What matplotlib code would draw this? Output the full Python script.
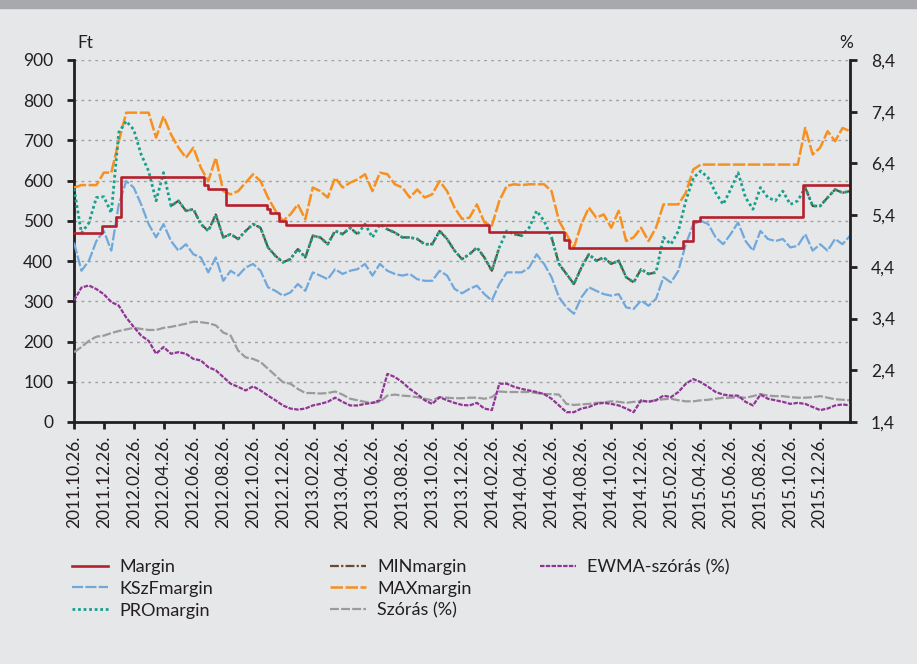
import numpy as np
import pandas as pd
import matplotlib
matplotlib.use('Agg')
import matplotlib.pyplot as plt
from matplotlib.patches import Rectangle

plt.rcParams['font.family'] = ['Lato', 'DejaVu Sans']

# félhavi pontok 2011.10.26 és 2016.02.26 között (105 db)
dates = pd.date_range('2011-10-26', '2016-02-26', periods=105)

kszf_margin = [446, 376, 401, 450, 475, 426, 541, 599, 583, 541, 492, 459, 492, 450, 426, 442,
               417, 409, 372, 409, 351, 376, 364, 384, 393, 376, 335, 326, 314, 322, 343, 326,
               372, 364, 355, 380, 368, 376, 380, 393, 364, 393, 376, 368, 364, 368, 355, 351,
               351, 376, 364, 331, 320,
               331, 339, 318, 302, 343, 372, 372, 372, 384, 417, 393, 360, 310, 285, 269, 310,
               335, 326, 318, 314, 318, 285, 281, 302, 289, 306, 360, 347, 376, 442, 492, 500,
               492, 459, 442, 467, 496, 450, 426, 475, 455, 450, 455, 434, 438, 467, 426, 442,
               426, 455, 442, 463]

pro_margin = [580, 470, 495, 558, 560, 520, 720, 748, 727, 665, 624, 550, 620, 537, 550, 525,
              529, 492, 475, 516, 459, 467, 455, 475, 492, 483, 434, 413, 397, 405, 430, 409,
              463, 459, 442, 475, 467, 483, 467, 492, 459, 492, 479, 471, 459, 459, 455, 442,
              442, 475, 455, 426, 405,
              417, 434, 409, 376, 434, 475, 467, 463, 483, 525, 500, 459, 393, 368, 343, 384,
              417, 401, 409, 393, 401, 360, 347, 380, 368, 372, 459, 442, 475, 550, 607, 624,
              607, 570, 541, 578, 620, 558, 529, 583, 558, 550, 574, 541, 550, 583, 537, 537,
              558, 578, 570, 574]

max_margin = [583, 589, 589, 589, 620, 620, 698, 769, 769, 769, 769, 707, 760, 715, 682, 657,
              682, 632, 599, 657, 574, 566, 574, 595, 616, 599, 558, 525, 500, 516, 541, 504,
              583, 574, 558, 607, 583, 595, 603, 616, 574, 620, 616, 591, 583, 558, 578, 558,
              566, 599, 574, 533, 505,
              508, 541, 496, 488, 550, 587, 591, 589, 591, 591, 591, 574, 500, 467, 434, 492,
              533, 508, 516, 483, 525, 450, 459, 483, 450, 483, 541, 541, 541, 570, 628, 640,
              640, 640, 640, 640, 640, 640, 640, 640, 640, 640, 640, 640, 640, 731, 665, 682,
              723, 698, 731, 723]

szoras = [2.75, 2.85, 2.97, 3.05, 3.07, 3.12, 3.16, 3.19, 3.22, 3.20, 3.18, 3.18, 3.22, 3.24,
          3.27, 3.30, 3.34, 3.33, 3.31, 3.27, 3.13, 3.07, 2.78, 2.65, 2.62, 2.56, 2.43, 2.30,
          2.17, 2.14, 2.04, 1.96, 1.96, 1.95, 1.96, 1.99, 1.93, 1.85, 1.82, 1.79, 1.77, 1.79,
          1.91, 1.93, 1.91, 1.90, 1.88, 1.85, 1.82, 1.88, 1.87, 1.86, 1.86,
          1.87, 1.87, 1.85, 1.88, 1.99, 1.98, 1.98, 1.98, 1.98, 1.96, 1.94, 1.94, 1.93, 1.75,
          1.73, 1.74, 1.75, 1.77, 1.78, 1.80, 1.79, 1.77, 1.79, 1.80, 1.80, 1.82, 1.84, 1.85,
          1.82, 1.80, 1.80, 1.82, 1.83, 1.85, 1.87, 1.87, 1.88, 1.87, 1.90, 1.94, 1.91, 1.90,
          1.90, 1.88, 1.87, 1.87, 1.88, 1.90, 1.87, 1.84, 1.83, 1.82]

ewma = [3.75, 4.00, 4.04, 3.97, 3.87, 3.72, 3.65, 3.42, 3.24, 3.07, 2.97, 2.72, 2.85, 2.72,
        2.75, 2.72, 2.62, 2.59, 2.46, 2.40, 2.27, 2.14, 2.08, 2.01, 2.09, 2.01, 1.91, 1.82,
        1.72, 1.66, 1.64, 1.66, 1.72, 1.75, 1.79, 1.87, 1.79, 1.72, 1.72, 1.75, 1.77, 1.82,
        2.33, 2.27, 2.17, 2.04, 1.94, 1.82, 1.75, 1.88, 1.82, 1.77, 1.73,
        1.72, 1.77, 1.66, 1.63, 2.14, 2.14, 2.08, 2.04, 2.01, 1.98, 1.94, 1.85, 1.72, 1.59,
        1.59, 1.66, 1.69, 1.75, 1.77, 1.75, 1.72, 1.66, 1.59, 1.82, 1.79, 1.82, 1.91, 1.88,
        1.98, 2.14, 2.23, 2.17, 2.08, 1.98, 1.93, 1.91, 1.91, 1.79, 1.72, 1.93, 1.85, 1.82,
        1.79, 1.75, 1.77, 1.75, 1.69, 1.63, 1.66, 1.72, 1.74, 1.72]

# Margin lépcsők (változás dátuma, új szint)
margin_dates = ['2011-10-26', '2011-12-22', '2012-01-20', '2012-01-29', '2012-07-18',
                '2012-07-26', '2012-09-01', '2012-11-22', '2012-11-30', '2012-12-17',
                '2013-01-01', '2014-02-20', '2014-07-23', '2014-08-01', '2015-03-23',
                '2015-04-12', '2015-04-26', '2015-11-22', '2016-02-26']
margin_vals = [470, 488, 510, 610, 588, 580, 540, 530, 520, 500, 490, 473, 452, 432, 450,
               500, 510, 590, 590]

margin_dates = pd.to_datetime(margin_dates)
margin_vals = np.array(margin_vals)

# MINmargin: a PROmargin ott, ahol a Margin alatt fut
idx = np.searchsorted(margin_dates.values, dates.values, side='right') - 1
margin_on_grid = margin_vals[idx]
pro_arr = np.array(pro_margin, dtype=float)
min_margin = np.where(pro_arr < margin_on_grid, pro_arr, np.nan)

bg = '#e6e7e8'
fig = plt.figure(figsize=(9.17, 6.64), dpi=100, facecolor=bg)
fig.patches.append(Rectangle((0, 1 - 8 / 664), 1, 8 / 664, transform=fig.transFigure,
                             color='#a7a9ac', zorder=0))
fig.subplots_adjust(left=74 / 917, right=850 / 917, bottom=1 - 422 / 664, top=1 - 60 / 664)
ax = fig.add_subplot(111)
ax.set_facecolor(bg)
ax2 = ax.twinx()

l_szoras, = ax2.plot(dates, szoras, color='#9b9b9b', lw=1.6, dashes=(4, 1), zorder=2)
l_ewma, = ax2.plot(dates, ewma, color='#8e3596', lw=1.6, dashes=(2, 0.6), zorder=3)

l_kszf, = ax.plot(dates, kszf_margin, color='#6fa8dc', lw=1.6, dashes=(5, 1), zorder=3)
l_max, = ax.plot(dates, max_margin, color='#f7901e', lw=1.8, dashes=(5, 1), zorder=3)
l_min, = ax.plot(dates, min_margin, color='#6b4a2f', lw=1.6, dashes=(4, 1, 1, 1), zorder=4)
l_pro, = ax.plot(dates, pro_arr, color='#18a08d', lw=2.0, dashes=(1, 1),
                 dash_capstyle='butt', zorder=5)
l_margin, = ax.step(margin_dates, margin_vals, where='post', color='#b5202e', lw=1.9, zorder=6)

ax.set_ylim(0, 900)
ax.set_yticks(range(0, 901, 100))
ax2.set_ylim(1.4, 8.4)
r_ticks = [1.4, 2.4, 3.4, 4.4, 5.4, 6.4, 7.4, 8.4]
ax2.set_yticks(r_ticks)
ax2.set_yticklabels([f'{v:.1f}'.replace('.', ',') for v in r_ticks])

x_ticks = pd.date_range('2011-10-26', '2015-12-26', freq=pd.DateOffset(months=2))
ax.set_xlim(pd.Timestamp('2011-10-26'), pd.Timestamp('2016-02-26'))
ax.set_xticks(x_ticks)
ax.set_xticklabels([d.strftime('%Y.%m.%d.') for d in x_ticks], rotation=90)

ax.grid(axis='y', color='#a0a0a0', lw=1.0, linestyle=(0, (2, 3)))
ax.set_axisbelow(True)

spine_c = '#231f20'
for s in ['top', 'right']:
    ax.spines[s].set_visible(False)
for s in ['top', 'left', 'bottom']:
    ax2.spines[s].set_visible(False)
for sp in [ax.spines['left'], ax.spines['bottom'], ax2.spines['right']]:
    sp.set_color(spine_c)
    sp.set_linewidth(2)

ax.tick_params(axis='y', direction='out', length=5, width=2, color=spine_c,
               labelsize=12.5, labelcolor='#231f20', pad=10)
ax.tick_params(axis='x', direction='out', length=5, width=2, color=spine_c,
               labelsize=12.5, labelcolor='#231f20', pad=5)
ax2.tick_params(axis='y', direction='out', length=5, width=2, color=spine_c,
                labelsize=12.5, labelcolor='#231f20', pad=10)

fig.text(77 / 917, 1 - 43 / 664, 'Ft', fontsize=12.5, color='#231f20', va='center')
fig.text(846 / 917, 1 - 43 / 664, '%', fontsize=12.5, color='#231f20', va='center', ha='center')

columns = [([l_margin, l_kszf, l_pro], ['Margin', 'KSzFmargin', 'PROmargin'], 72),
           ([l_min, l_max, l_szoras], ['MINmargin', 'MAXmargin', 'Szórás (%)'], 330),
           ([l_ewma], ['EWMA-szórás (%)'], 540)]
for handles, labels, x0 in columns:
    fig.legend(handles, labels, loc='upper left', bbox_to_anchor=(x0 / 917, 1 - 559 / 664),
               frameon=False, fontsize=13, handlelength=2.0, handletextpad=0.6,
               labelspacing=0.32, borderpad=0, borderaxespad=0, labelcolor='#231f20')

fig.savefig('out.png', dpi=100, facecolor=bg)
